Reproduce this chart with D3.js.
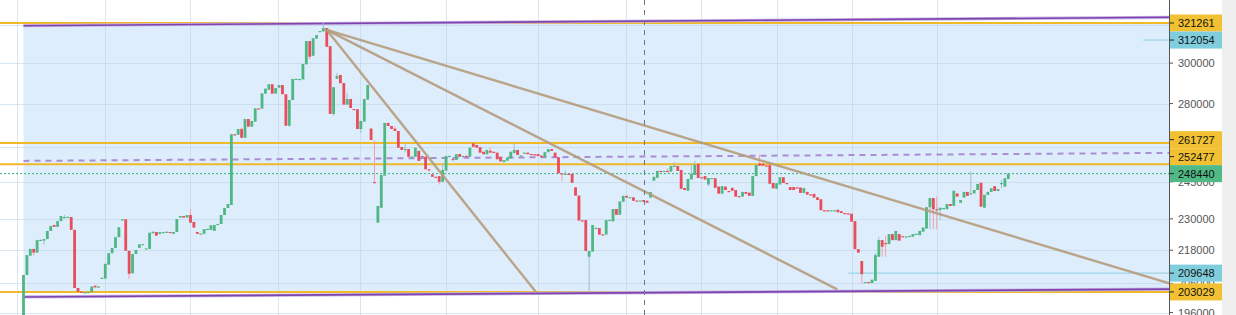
<!DOCTYPE html>
<html><head><meta charset="utf-8">
<script src="https://cdn.jsdelivr.net/npm/d3@7"></script>
<style>body{margin:0;background:#fff;overflow:hidden}svg{display:block}text{font-family:"Liberation Sans",Arial,sans-serif}</style>
</head><body><svg id="c" width="1236" height="315"></svg>
<script>
// ---------------- data ----------------
const opens = [
191000,209000,216000,218500,217100,221800,221600,222200,225300,227600,
226900,229100,230500,230700,230700,225700,204400,203100,202800,202900,
203000,205200,204600,207700,207700,212700,216900,218800,222900,229700,
229800,217800,209600,216600,218900,220200,218600,218500,224400,224900,
224100,224800,224900,224900,224200,224900,230500,231100,230500,231500,
228800,224900,224200,224200,226000,225700,225300,227600,228000,231500,
234300,235500,265700,265500,268200,264100,272700,269200,271500,277700,
277600,284800,286700,289400,284800,287700,289000,284500,269600,281700,
292000,291900,291800,299400,311500,303800,312800,316700,316700,318500,
308800,275100,292100,294000,290000,279500,282200,277400,277300,268100,
271500,281900,268300,244900,228500,234400,247600,270900,269500,268300,
267200,260000,258900,259100,255700,255700,258300,256000,255700,250300,
248100,247100,247400,245000,249700,256000,254700,254300,256900,256000,
256100,255700,261600,260900,259900,257900,256800,258300,257900,257500,
255500,253400,254000,254900,257300,258700,256200,257200,257500,256900,
256800,256900,256200,255500,257700,259100,257500,255500,248600,248300,
248400,248300,242700,239300,229400,229500,215600,217500,226400,226400,
224000,223900,229500,229000,233900,231600,236800,239200,238600,238600,
237300,237200,237500,237200,238500,245500,246700,249600,249500,249600,
249300,251700,251700,250000,242400,241300,246000,247900,252600,246900,
247400,243900,246500,246500,243000,240100,243000,241200,242500,241600,
239100,238900,240800,240500,239200,247400,252700,252700,251900,252100,
244500,242100,243900,246900,244500,242800,242800,242700,242600,240400,
240800,239800,240000,238600,237800,233400,233400,233300,233300,233600,
233000,232300,232200,232000,229100,218400,214000,206400,206500,206100,
206900,215600,221800,220700,220300,224100,221800,224100,223300,223100,
223300,223100,224100,223700,225000,226200,234600,238300,233800,233500,
234200,233800,235900,235100,240200,236400,238500,240800,240000,240200,
241600,244600,234400,239600,240800,243200,241200,244300,243000,246200];
const closes = [
209000,216200,218500,217100,221800,221900,222200,225300,227200,226900,
229100,231100,230700,230800,225700,204400,203100,202800,202900,203000,
204900,204600,204900,208000,213000,216900,218800,222900,226700,229800,
217800,209400,216600,218100,220200,220300,218700,224600,225000,223500,
224800,224900,225000,224500,224900,229900,231100,230500,231500,228500,
226600,224200,224300,226000,226100,227500,227600,228000,231500,234300,
235900,265700,265500,268100,264100,272700,269200,271800,277700,277600,
284900,287200,289400,284800,287500,289000,284500,269600,281700,292000,
292100,292000,299600,311500,303300,313000,314700,316900,318500,308500,
275100,287900,293500,289900,279500,282200,277900,277300,268100,271800,
282200,289000,263100,244700,235100,247900,270900,269500,268100,267200,
259700,258700,259100,255700,255800,259700,253900,255500,250300,250200,
247100,247000,245000,250000,256000,256100,254600,256800,255700,256100,
256000,259700,260100,259700,257500,256800,258700,257500,257500,254600,
253700,254300,255300,257900,258700,256500,256300,257500,256800,256800,
256700,256000,255500,257700,259100,258300,255500,248600,248500,248400,
248300,244600,239300,229300,229300,217700,217700,227600,226500,223900,
223900,229500,229600,233900,231600,236900,239200,238500,238700,237200,
237200,237300,236800,236400,240800,247100,249600,249400,249600,249400,
251700,251800,249600,242100,241600,246200,248300,252300,246600,246800,
246000,246600,246600,242500,240100,243200,241600,241100,241300,238900,
239000,240800,240000,239200,247400,252100,251800,251800,251800,244200,
242300,244400,246900,244500,244400,241600,241600,242600,240400,242400,
239700,239700,238500,237500,233400,233300,233300,233400,233400,232600,
232300,232200,232000,228900,218400,217100,209300,206500,206300,207300,
216200,221800,219300,220500,224100,221800,225300,221600,223200,223200,
223400,224100,224200,225300,226600,234600,238300,233800,233700,234400,
234300,235900,235100,241300,238900,237500,240800,239200,240200,241600,
244100,234800,239600,240800,242300,241200,242000,244500,246500,248440];
// [candle index, price] wick extremes that reach beyond the body
const highWicks = [[12,231500],[49,233900],[88,321261],[92,295000],[95,285200],[103,263100],
[109,269500],[112,261800],[123,253000],[137,259700],[144,261600],[159,249700],[189,250800],
[191,253400],[196,252100],[197,253900],[216,256500],[250,216900],[251,223100],[253,223400],
[268,238900],[278,249400],[287,245800]];
const lowWicks = [[0,189000],[3,216000],[6,220000],[31,207600],[78,269200],[84,301800],
[91,274300],[99,266300],[103,244600],[112,257500],[119,249300],[122,243900],[123,244800],
[158,245500],[166,203100],[201,243200],[246,206100],[252,215600],[253,215600],[266,226000],
[267,226000],[268,226000],[269,229500],[287,242400]];

const yTicks = [196000,206000,218000,230000,245000,260000,280000,300000,320000];
const gridIdx = [-1.8,24.0,48.9,74.7,98.8,124.0,151.1,176.8,198.8,221.1,243.2,268.1];
const orangeLevels = [321261,261727,252477,203029];
const rangeTop = 321261, rangeBottom = 203029, rangeStartIdx = 0;
const lastPrice = 248440;
const rays = [{v:312054,from:328.6},{v:209648,from:242.1}];
const crosshairIdx = 182;
const channel = [
  [[0,319800],[336.3,324400]],
  [[0,201300],[336.3,204000]]];
const channelMid = [[0,253900],[336.3,257400]];
const fanLines = [
  [[89,317500],[150.5,202800]],
  [[89,317500],[238.8,203900]],
  [[89,317500],[336.3,206000]]];
const priceLabels = [
  {v:321261,kind:'level'},{v:312054,kind:'ray'},{v:261727,kind:'level'},
  {v:252477,kind:'level'},{v:248440,kind:'last'},{v:209648,kind:'ray'},{v:203029,kind:'level'}];

// ---------------- drawing ----------------
const W=1236,H=315,axisX=1169;
const N = opens.length;
const x = d3.scaleLinear().domain([0,N-1]).range([23.5,1008.3]);
const y = d3.scaleLog().domain([195189,334125]).range([H,0]);
const svg = d3.select('#c');
const defs = svg.append('defs');
defs.append('clipPath').attr('id','plot').append('rect').attr('x',0).attr('y',0).attr('width',axisX).attr('height',H);

svg.append('rect').attr('width',W).attr('height',H).attr('fill','#fff');
svg.append('rect').attr('x',1222).attr('y',0).attr('width',W-1222).attr('height',H).attr('fill','#efefef');

const g = svg.append('g').attr('clip-path','url(#plot)');
g.append('rect').attr('x',x(rangeStartIdx)).attr('y',y(rangeTop))
  .attr('width',axisX-x(rangeStartIdx)).attr('height',y(rangeBottom)-y(rangeTop)).attr('fill','#ddedfb');
g.selectAll('.hg').data(yTicks).join('line').attr('x1',0).attr('x2',axisX)
  .attr('y1',d=>Math.round(y(d))+0.5).attr('y2',d=>Math.round(y(d))+0.5)
  .attr('stroke','#bcd2e6').attr('stroke-opacity',0.55).attr('stroke-width',1);
g.selectAll('.vg').data(gridIdx).join('line').attr('y1',0).attr('y2',H)
  .attr('x1',d=>Math.round(x(d))+0.5).attr('x2',d=>Math.round(x(d))+0.5)
  .attr('stroke','#bcd2e6').attr('stroke-opacity',0.55).attr('stroke-width',1);

g.selectAll('.lv').data(orangeLevels).join('line').attr('x1',0).attr('x2',axisX)
  .attr('y1',d=>y(d)).attr('y2',d=>y(d)).attr('stroke','#f0b92a').attr('stroke-width',2);

const lineGen = d3.line().x(d=>x(d[0])).y(d=>y(d[1]));
channel.forEach(c=>{
  g.append('path').attr('d',lineGen(c)).attr('fill','none').attr('stroke','#c9b3e6').attr('stroke-width',3.2);
  g.append('path').attr('d',lineGen(c)).attr('fill','none').attr('stroke','#7d45ad').attr('stroke-width',1.6);
});
g.append('path').attr('d',lineGen(channelMid)).attr('fill','none').attr('stroke','#9a6cc8')
  .attr('stroke-opacity',0.75).attr('stroke-width',2).attr('stroke-dasharray','6,5');

g.append('line').attr('x1',0).attr('x2',axisX).attr('y1',y(lastPrice)).attr('y2',y(lastPrice))
  .attr('stroke','#2fb573').attr('stroke-width',1).attr('stroke-dasharray','2,2');
rays.forEach(r=>{
  g.append('line').attr('x1',x(r.from)).attr('x2',axisX).attr('y1',y(r.v)).attr('y2',y(r.v))
   .attr('stroke','#8ccfe0').attr('stroke-width',1);
});

const hiMap = new Map(highWicks), loMap = new Map(lowWicks);
const candles = d3.range(N).map(i=>{
  const o=opens[i], c=closes[i];
  return {i,o,c,up:c>=o,h:hiMap.has(i)?hiMap.get(i):Math.max(o,c),l:loMap.has(i)?loMap.get(i):Math.min(o,c)};
});
g.selectAll('.wick').data(candles).join('line')
  .attr('x1',d=>x(d.i)).attr('x2',d=>x(d.i)).attr('y1',d=>y(d.h)).attr('y2',d=>y(d.l))
  .attr('stroke',d=>d.up?'#9fbfcc':'#f4a0aa').attr('stroke-width',1);
g.selectAll('.body').data(candles).join('rect')
  .attr('x',d=>x(d.i)-1.4).attr('width',2.8)
  .attr('y',d=>Math.min(y(d.o),y(d.c)))
  .attr('height',d=>Math.max(1.2,Math.abs(y(d.o)-y(d.c))))
  .attr('fill',d=>d.up?'#4fb784':'#e94c5b');

fanLines.forEach(f=>{
  g.append('path').attr('d',lineGen(f)).attr('fill','none').attr('stroke','#b59b7c')
   .attr('stroke-opacity',0.9).attr('stroke-width',2.4);
});

g.append('line').attr('x1',Math.round(x(crosshairIdx))+0.5).attr('x2',Math.round(x(crosshairIdx))+0.5)
  .attr('y1',0).attr('y2',H).attr('stroke','#6a7785').attr('stroke-width',1).attr('stroke-dasharray','5,5');

// axis
svg.append('line').attr('x1',axisX+0.5).attr('x2',axisX+0.5).attr('y1',0).attr('y2',H).attr('stroke','#555').attr('stroke-width',1);
const ax = svg.append('g');
const colors = {level:'#f2c133',ray:'#80cddd',last:'#50b985'};
const labs = priceLabels.map(d=>({...d,y:y(d.v)})).sort((a,b)=>a.y-b.y);
for(let k=labs.length-2;k>=0;k--){ if(labs[k].y>labs[k+1].y-17) labs[k].y=labs[k+1].y-17; }
// tick labels: skip those entirely hidden behind price label boxes
const covered = yy => { let vis=0,tot=0; for(let s=yy-4;s<=yy+4;s+=0.5){tot++; if(!labs.some(l=>s>=l.y-8.5&&s<=l.y+8.5)) vis++;} return vis/tot<0.15; };
yTicks.forEach(t=>{
  const yy = y(t);
  ax.append('line').attr('x1',axisX).attr('x2',axisX+4).attr('y1',yy).attr('y2',yy).attr('stroke','#555');
  if(!covered(yy)) ax.append('text').attr('x',axisX+9).attr('y',yy).attr('dominant-baseline','central')
    .attr('font-size',11).attr('fill','#555').text(d3.format('d')(t));
});
labs.forEach(l=>{
  ax.append('rect').attr('x',axisX+1).attr('y',l.y-8.5).attr('width',1222-axisX-1).attr('height',17).attr('fill',colors[l.kind]);
  ax.append('line').attr('x1',axisX+1).attr('x2',axisX+5).attr('y1',l.y).attr('y2',l.y).attr('stroke','#222');
  ax.append('text').attr('x',axisX+9).attr('y',l.y).attr('dominant-baseline','central')
    .attr('font-size',11).attr('fill','#111').text(l.v);
});
</script></body></html>
